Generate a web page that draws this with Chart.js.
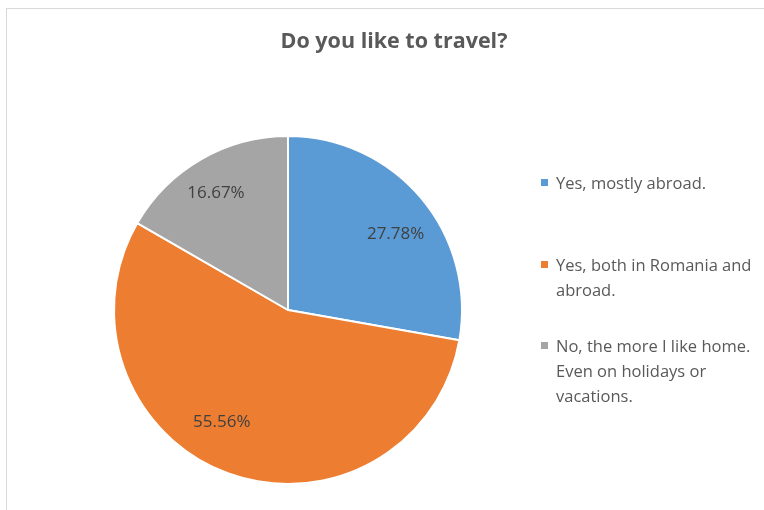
<!DOCTYPE html>
<html>
<head>
<meta charset="utf-8">
<script src="https://cdn.jsdelivr.net/npm/chart.js@4/dist/chart.umd.min.js"></script>
<style>
	body { margin: 0; background: #fff; font-family: "Open Sans", sans-serif; }
	#wrap { position: relative; width: 764px; height: 510px; overflow: hidden; }
	#frame { position: absolute; left: 6px; top: 8px; width: 800px; height: 600px; border: 1px solid #d9d9d9; }
	#title { position: absolute; left: 0; top: 25px; width: 788px; text-align: center; font-size: 21.5px; font-weight: bold; color: #595959; }
	#legend { position: absolute; left: 541px; top: 0; width: 220px; }
	.item { position: absolute; left: 0; width: 230px; font-size: 16.5px; line-height: 25px; color: #595959; }
	.item span.box { position: absolute; left: 0; top: 9px; width: 7px; height: 7px; }
	.item div { margin-left: 15px; }
	canvas { position: absolute; left: 0; top: 0; }
</style>
</head>
<body>
<div id="wrap">
	<div id="frame"></div>
	<canvas id="pie" width="764" height="510"></canvas>
	<div id="title">Do you like to travel?</div>
	<div id="legend"></div>
</div>
<script>
const labels = [
	"Yes, mostly abroad.",
	"Yes, both in Romania and abroad.",
	"No, the more I like home. Even on holidays or vacations.",
];
const legendLines = [
	["Yes, mostly abroad."],
	["Yes, both in Romania and", "abroad."],
	["No, the more I like home.", "Even on holidays or", "vacations."],
];
const percents = [27.78, 55.56, 16.67];
const colors = ["#5B9BD5", "#ED7D31", "#A5A5A5"];
const legendTops = [170, 252, 333];
// label placement per slice: [radius fraction, angle shift in degrees]
const labelPlace = [[0.755, 5], [0.75, 10.5], [0.79, -1.6]];

// html legend
const legend = document.getElementById("legend");
legendLines.forEach((lines, i) => {
	const el = document.createElement("div");
	el.className = "item";
	el.style.top = legendTops[i] + "px";
	el.innerHTML = `<span class="box" style="background:${colors[i]}"></span><div>${lines.join("<br>")}</div>`;
	legend.appendChild(el);
});

const sliceLabels = {
	id: "sliceLabels",
	afterDatasetsDraw(chart) {
		const ctx = chart.ctx;
		const meta = chart.getDatasetMeta(0);
		ctx.save();
		ctx.font = "17px 'Open Sans', sans-serif";
		ctx.fillStyle = "#404040";
		ctx.textAlign = "center";
		ctx.textBaseline = "middle";
		meta.data.forEach((arc, i) => {
			const mid = (arc.startAngle + arc.endAngle) / 2 + labelPlace[i][1] * Math.PI / 180;
			const r = arc.outerRadius * labelPlace[i][0];
			const x = arc.x + Math.cos(mid) * r;
			const y = arc.y + Math.sin(mid) * r;
			ctx.fillText(percents[i].toFixed(2) + "%", x, y);
		});
		ctx.restore();
	},
};

new Chart(document.getElementById("pie"), {
	type: "pie",
	data: {
		labels: labels,
		datasets: [
			{
				data: percents,
				backgroundColor: colors,
				borderColor: "#ffffff",
				borderWidth: 2,
			},
		],
	},
	options: {
		responsive: false,
		animation: false,
		layout: { padding: { left: 113, right: 301, top: 135, bottom: 25 } },
		plugins: {
			legend: { display: false },
			title: { display: false },
			tooltip: { enabled: false },
		},
	},
	plugins: [sliceLabels],
});
</script>
</body>
</html>
